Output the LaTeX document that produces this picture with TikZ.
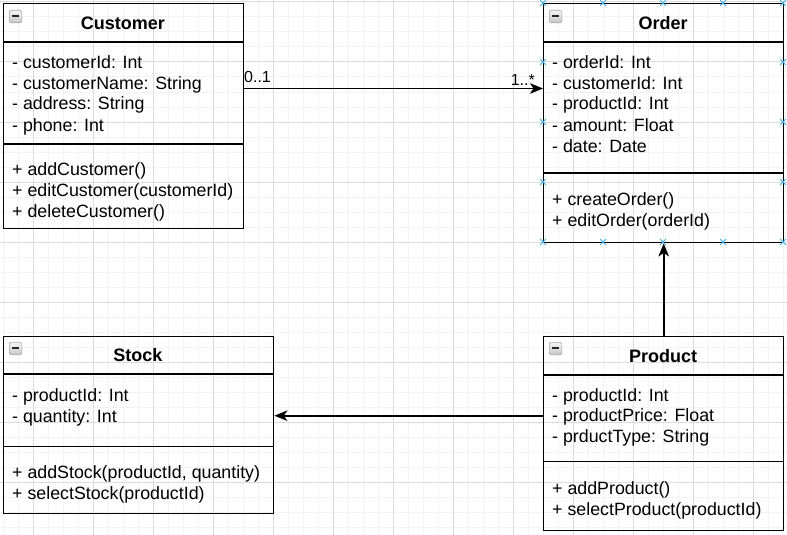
\documentclass[tikz,border=0pt]{standalone}
\usepackage{fontspec}
\setmainfont{Liberation Sans}
\usetikzlibrary{arrows.meta,positioning}
\definecolor{gridminor}{HTML}{F3F3F3}
\definecolor{gridmajor}{HTML}{DCDCDC}
\definecolor{handle}{HTML}{3FAEE8}
\begin{document}
\begin{tikzpicture}[x=1pt,y=-1pt]
\tikzstyle{every node}+=[inner sep=0pt]
\tikzstyle{classbox}=[draw=black, line width=1.4pt, anchor=north west]
\tikzstyle{divider}=[black, line width=1.4pt]
\tikzstyle{classtitle}=[anchor=base, font=\fontsize{18}{21}\bfseries]
\tikzstyle{member}=[anchor=base west, font=\fontsize{17.8}{21}\selectfont]
\tikzstyle{mult}=[font=\fontsize{16}{18}\selectfont]
\tikzstyle{assoc}=[black, line width=1.7pt, -{Stealth[length=13pt, width=10.5pt, inset=3.5pt]}]
\tikzstyle{toggle}=[draw=gray!70, line width=0.6pt, rounded corners=1.5pt, top color=gray!8, bottom color=gray!45, minimum size=12.5pt, anchor=north west]
\tikzstyle{handlemark}=[handle, line width=1pt]
\useasboundingbox (0,0) rectangle (787,535);
\fill[white] (0,0) rectangle (787,535);
% grid
\foreach \x in {3,18,...,783} \draw[gridminor, line width=1pt] (\x,0) -- (\x,535);
\foreach \y in {2,17,...,527} \draw[gridminor, line width=1pt] (0,\y) -- (787,\y);
\foreach \x in {33,93,...,753} \draw[gridmajor, line width=1pt] (\x,0) -- (\x,535);
\foreach \y in {2,62,...,482} \draw[gridmajor, line width=1pt] (0,\y) -- (787,\y);
% Customer
\node[classbox, minimum width=240pt, minimum height=225pt] (customer) at (3,3) {};
\node[toggle] (customer-toggle) at (9,10) {};
\draw[line width=1.8pt, gray!30!black] (12,16.3) -- (18.5,16.3);
\node[classtitle] (customer-title) at (123,29.3) {Customer};
\draw[divider] (3,42) -- (243,42);
\node[member] (cu1) at (12,68) {- customerId: Int};
\node[member] (cu2) at (12,89) {- customerName: String};
\node[member] (cu3) at (12,110) {- address: String};
\node[member] (cu4) at (12,131) {- phone: Int};
\draw[divider] (3,144) -- (243,144);
\node[member] (cu5) at (12,175.7) {+ addCustomer()};
\node[member] (cu6) at (12,196.7) {+ editCustomer(customerId)};
\node[member] (cu7) at (12,217.7) {+ deleteCustomer()};
% Order
\node[classbox, minimum width=240pt, minimum height=239pt] (order) at (543,3) {};
\node[toggle] (order-toggle) at (549,10) {};
\draw[line width=1.8pt, gray!30!black] (552,16.3) -- (558.5,16.3);
\node[classtitle] (order-title) at (663,29.3) {Order};
\draw[divider] (543,42) -- (783,42);
\node[member] (or1) at (552,68) {- orderId: Int};
\node[member] (or2) at (552,89) {- customerId: Int};
\node[member] (or3) at (552,110) {- productId: Int};
\node[member] (or4) at (552,131) {- amount: Float};
\node[member] (or5) at (552,152) {- date: Date};
\draw[divider] (543,173) -- (783,173);
\node[member] (or6) at (552,205.7) {+ createOrder()};
\node[member] (or7) at (552,226.7) {+ editOrder(orderId)};
% Stock
\node[classbox, minimum width=270pt, minimum height=177pt] (stock) at (3,336) {};
\node[toggle] (stock-toggle) at (9,342) {};
\draw[line width=1.8pt, gray!30!black] (12,348.3) -- (18.5,348.3);
\node[classtitle] (stock-title) at (138,361.7) {Stock};
\draw[divider] (3,374) -- (273,374);
\node[member] (st1) at (12,401.7) {- productId: Int};
\node[member] (st2) at (12,422.3) {- quantity: Int};
\draw[divider] (3,446.7) -- (273,446.7);
\node[member] (st3) at (12,478.3) {+ addStock(productId, quantity)};
\node[member] (st4) at (12,499) {+ selectStock(productId)};
% Product
\node[classbox, minimum width=240pt, minimum height=194pt] (product) at (543,336) {};
\node[toggle] (product-toggle) at (549,342) {};
\draw[line width=1.8pt, gray!30!black] (552,348.3) -- (558.5,348.3);
\node[classtitle] (product-title) at (663,362.3) {Product};
\draw[divider] (543,375) -- (783,375);
\node[member] (pr1) at (552,401) {- productId: Int};
\node[member] (pr2) at (552,421.7) {- productPrice: Float};
\node[member] (pr3) at (552,442.3) {- prductType: String};
\draw[divider] (543,461.7) -- (783,461.7);
\node[member] (pr4) at (552,494.3) {+ addProduct()};
\node[member] (pr5) at (552,515) {+ selectProduct(productId)};
% connectors
\draw[assoc] ([yshift=-85.5pt]customer.north east) -- ([yshift=-85.5pt]order.north west);
\node[mult, anchor=base west] (mult-customer) at (244,82.7) {0..1};
\node[mult, anchor=base east] (mult-order) at (535,85.7) {1..*};
\draw[assoc] (product.north) -- (order.south);
\draw[assoc] ([yshift=18pt]product.west) -- ([yshift=18pt]product.west -| stock.east);
% selection handles on Order
\foreach \p in {(543,3),(603,3),(663,3),(723,3),(783,3),(543,242),(603,242),(663,242),(723,242),(783,242),(543,62),(543,122),(543,182),(783,62),(783,122),(783,182)}
  \draw[handlemark] \p +(-2.8,-2.8) -- +(2.8,2.8) \p +(-2.8,2.8) -- +(2.8,-2.8);
\end{tikzpicture}
\end{document}
